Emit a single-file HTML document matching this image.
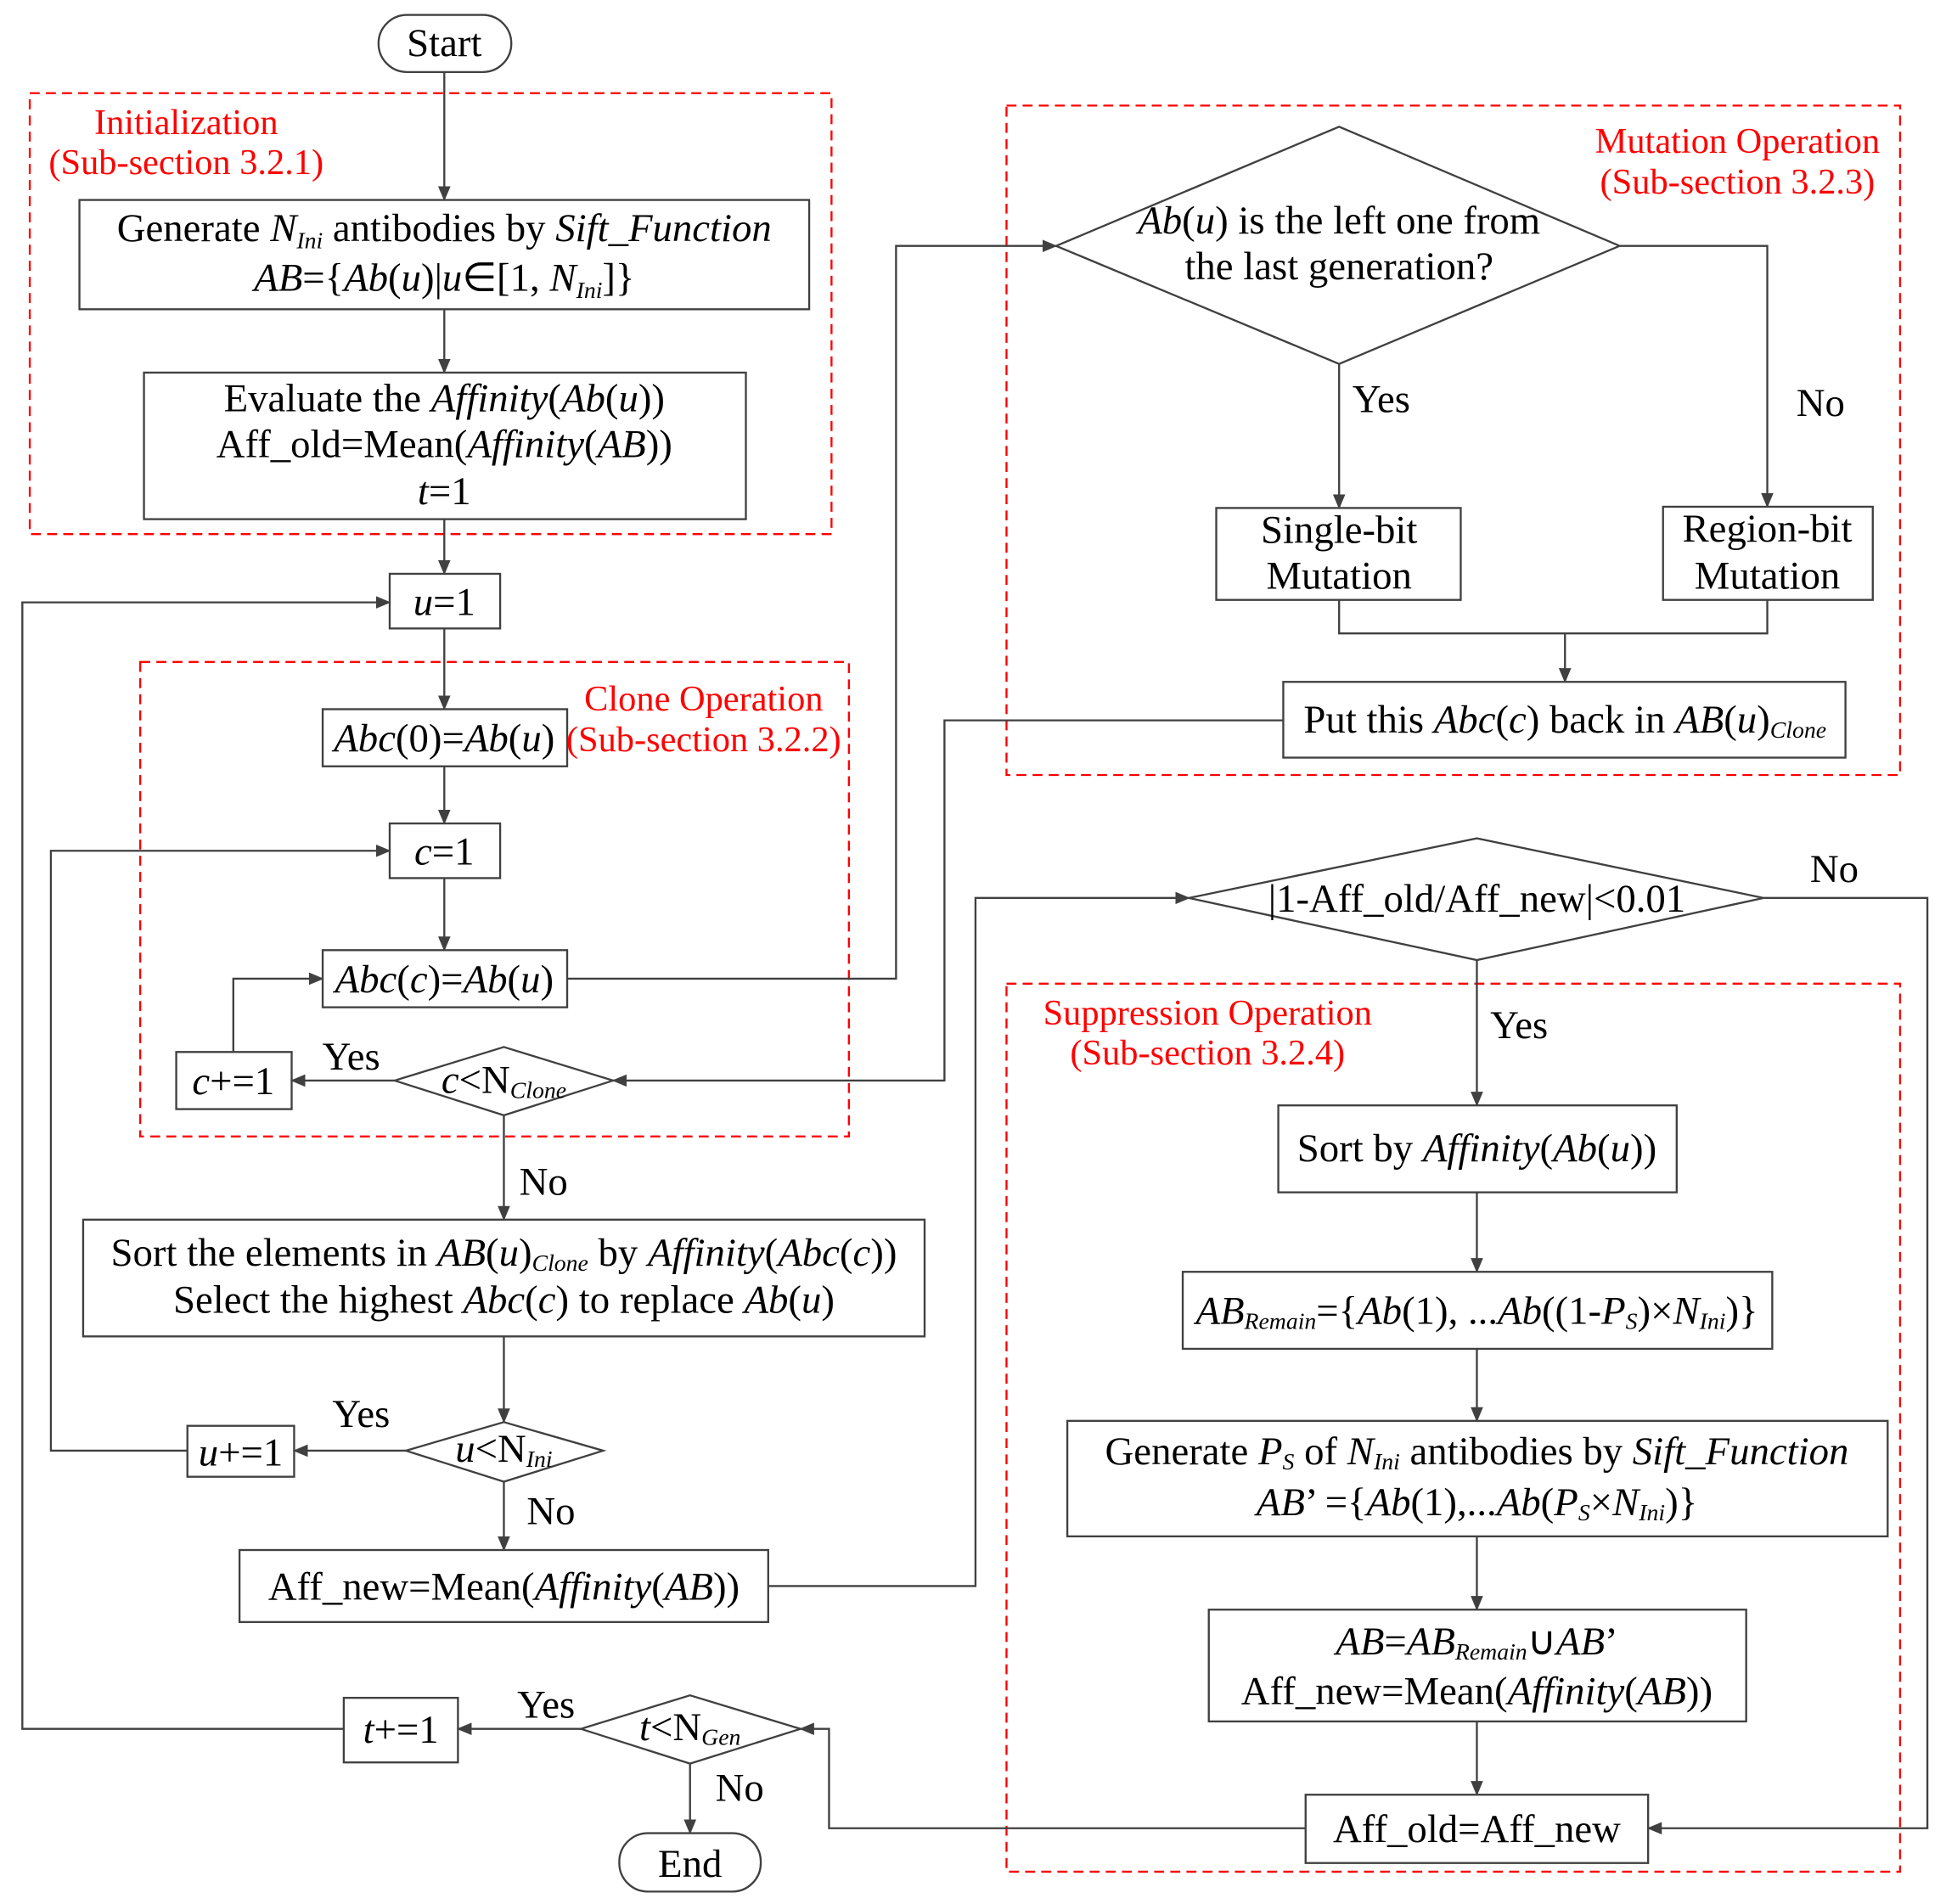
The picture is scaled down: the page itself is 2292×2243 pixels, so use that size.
<!DOCTYPE html>
<html><head><meta charset="utf-8"><style>
html,body{margin:0;padding:0;background:#fff;}
svg{display:block;}
text{font-family:"Liberation Serif",serif;font-size:32px;fill:#000;}
.r{fill:#f00;font-size:29px;}
.s{font-size:19px;}
</style></head><body>
<svg width="2292" height="2243" viewBox="0 0 1568 1533" preserveAspectRatio="none" xmlns="http://www.w3.org/2000/svg">
<defs><marker id="a" markerWidth="12" markerHeight="10" refX="11" refY="5" orient="auto" markerUnits="userSpaceOnUse"><path d="M0,0 L12,5 L0,10 Z" fill="#404040"/></marker></defs>
<g fill="none" stroke="#f00" stroke-width="1.6" stroke-dasharray="8,5">
<rect x="24" y="75" width="646" height="355"/>
<rect x="113" y="533" width="571" height="382"/>
<rect x="811" y="85" width="720" height="539"/>
<rect x="811" y="792" width="720" height="715"/>
</g>
<g fill="#fff" stroke="#404040" stroke-width="1.6">
<rect x="305" y="12" width="107" height="46" rx="23"/>
<rect x="64" y="161" width="588" height="88"/>
<rect x="116" y="300" width="485" height="118"/>
<rect x="314" y="462" width="89" height="44"/>
<rect x="260" y="571" width="197" height="46"/>
<rect x="314" y="663" width="89" height="44"/>
<rect x="260" y="765" width="197" height="46"/>
<rect x="142" y="847" width="93" height="46"/>
<polygon points="318,870 406,843 494,870 406,898"/>
<rect x="67" y="982" width="678" height="94"/>
<polygon points="327,1168 406,1145 486,1168 406,1193"/>
<rect x="151" y="1148" width="86" height="41"/>
<rect x="193" y="1248" width="426" height="58"/>
<rect x="277" y="1367" width="92" height="52"/>
<polygon points="468,1392 556,1365 645,1392 556,1420"/>
<rect x="499" y="1476" width="114" height="47" rx="23"/>
<polygon points="851,198 1079,102 1305,198 1079,293"/>
<rect x="980" y="409" width="197" height="74"/>
<rect x="1340" y="408" width="169" height="75"/>
<rect x="1034" y="549" width="453" height="61"/>
<polygon points="958,723 1190,675 1421,723 1190,773"/>
<rect x="1030" y="890" width="321" height="70"/>
<rect x="953" y="1024" width="475" height="62"/>
<rect x="860" y="1144" width="661" height="93"/>
<rect x="974" y="1296" width="433" height="90"/>
<rect x="1052" y="1445" width="276" height="55"/>
</g>
<g fill="none" stroke="#404040" stroke-width="1.6">
<path d="M358,58V161" marker-end="url(#a)"/>
<path d="M358,249V300" marker-end="url(#a)"/>
<path d="M358,418V462" marker-end="url(#a)"/>
<path d="M358,506V571" marker-end="url(#a)"/>
<path d="M358,617V663" marker-end="url(#a)"/>
<path d="M358,707V765" marker-end="url(#a)"/>
<path d="M457,788H722V198H851" marker-end="url(#a)"/>
<path d="M1079,293V409" marker-end="url(#a)"/>
<path d="M1305,198H1424V408" marker-end="url(#a)"/>
<path d="M1079,483V510H1424V483"/>
<path d="M1261,510V549" marker-end="url(#a)"/>
<path d="M1034,580H761V870H494" marker-end="url(#a)"/>
<path d="M318,870H235" marker-end="url(#a)"/>
<path d="M188,847V788H260" marker-end="url(#a)"/>
<path d="M406,898V982" marker-end="url(#a)"/>
<path d="M406,1076V1145" marker-end="url(#a)"/>
<path d="M327,1168H237" marker-end="url(#a)"/>
<path d="M151,1168H41V685H314" marker-end="url(#a)"/>
<path d="M406,1193V1248" marker-end="url(#a)"/>
<path d="M619,1277H786V723H958" marker-end="url(#a)"/>
<path d="M1421,723H1553V1472H1328" marker-end="url(#a)"/>
<path d="M1190,773V890" marker-end="url(#a)"/>
<path d="M1190,960V1024" marker-end="url(#a)"/>
<path d="M1190,1086V1144" marker-end="url(#a)"/>
<path d="M1190,1237V1296" marker-end="url(#a)"/>
<path d="M1190,1386V1445" marker-end="url(#a)"/>
<path d="M1052,1472H668V1392H645" marker-end="url(#a)"/>
<path d="M468,1392H369" marker-end="url(#a)"/>
<path d="M277,1392H18V485H314" marker-end="url(#a)"/>
<path d="M556,1420V1476" marker-end="url(#a)"/>
</g>
<g text-anchor="middle">
<text class="r" x="150" y="108">Initialization</text>
<text class="r" x="150" y="140">(Sub-section 3.2.1)</text>
<text class="r" x="567" y="572">Clone Operation</text>
<text class="r" x="567" y="605">(Sub-section 3.2.2)</text>
<text class="r" x="1400" y="123">Mutation Operation</text>
<text class="r" x="1400" y="156">(Sub-section 3.2.3)</text>
<text class="r" x="973" y="825">Suppression Operation</text>
<text class="r" x="973" y="857">(Sub-section 3.2.4)</text>

<text x="358" y="45">Start</text>
<text x="358" y="194">Generate <tspan font-style="italic">N<tspan class="s" dy="6">Ini</tspan></tspan><tspan dy="-6"> antibodies by </tspan><tspan font-style="italic">Sift_Function</tspan></text>
<text x="358" y="234"><tspan font-style="italic">AB</tspan>={<tspan font-style="italic">Ab</tspan>(<tspan font-style="italic">u</tspan>)|<tspan font-style="italic">u</tspan>∈[1, <tspan font-style="italic">N<tspan class="s" dy="6">Ini</tspan></tspan><tspan dy="-6">]}</tspan></text>
<text x="358" y="331">Evaluate the <tspan font-style="italic">Affinity</tspan>(<tspan font-style="italic">Ab</tspan>(<tspan font-style="italic">u</tspan>))</text>
<text x="358" y="368">Aff_old=Mean(<tspan font-style="italic">Affinity</tspan>(<tspan font-style="italic">AB</tspan>))</text>
<text x="358" y="406"><tspan font-style="italic">t</tspan>=1</text>
<text x="358" y="495"><tspan font-style="italic">u</tspan>=1</text>
<text x="358" y="605"><tspan font-style="italic">Abc</tspan>(0)=<tspan font-style="italic">Ab</tspan>(<tspan font-style="italic">u</tspan>)</text>
<text x="358" y="696"><tspan font-style="italic">c</tspan>=1</text>
<text x="358" y="799"><tspan font-style="italic">Abc</tspan>(<tspan font-style="italic">c</tspan>)=<tspan font-style="italic">Ab</tspan>(<tspan font-style="italic">u</tspan>)</text>
<text x="188" y="881"><tspan font-style="italic">c</tspan>+=1</text>
<text x="406" y="880" font-size="28"><tspan font-style="italic">c</tspan>&lt;N<tspan class="s" font-style="italic" dy="4">Clone</tspan></text>
<text x="406" y="1019">Sort the elements in <tspan font-style="italic">AB</tspan>(<tspan font-style="italic">u</tspan>)<tspan class="s" font-style="italic" dy="4">Clone</tspan><tspan dy="-4"> by </tspan><tspan font-style="italic">Affinity</tspan>(<tspan font-style="italic">Abc</tspan>(<tspan font-style="italic">c</tspan>))</text>
<text x="406" y="1057">Select the highest <tspan font-style="italic">Abc</tspan>(<tspan font-style="italic">c</tspan>) to replace <tspan font-style="italic">Ab</tspan>(<tspan font-style="italic">u</tspan>)</text>
<text x="406" y="1177" font-size="28"><tspan font-style="italic">u</tspan>&lt;N<tspan class="s" font-style="italic" dy="4">Ini</tspan></text>
<text x="194" y="1180"><tspan font-style="italic">u</tspan>+=1</text>
<text x="406" y="1288">Aff_new=Mean(<tspan font-style="italic">Affinity</tspan>(<tspan font-style="italic">AB</tspan>))</text>
<text x="323" y="1403"><tspan font-style="italic">t</tspan>+=1</text>
<text x="556" y="1401" font-size="28"><tspan font-style="italic">t</tspan>&lt;N<tspan class="s" font-style="italic" dy="4">Gen</tspan></text>
<text x="556" y="1511">End</text>

<text x="1079" y="188"><tspan font-style="italic">Ab</tspan>(<tspan font-style="italic">u</tspan>)  is the left one from</text>
<text x="1079" y="225">the last generation?</text>
<text x="1079" y="437">Single-bit</text>
<text x="1079" y="474">Mutation</text>
<text x="1424" y="436">Region-bit</text>
<text x="1424" y="474">Mutation</text>
<text x="1261" y="590">Put this <tspan font-style="italic">Abc</tspan>(<tspan font-style="italic">c</tspan>) back in <tspan font-style="italic">AB</tspan>(<tspan font-style="italic">u</tspan>)<tspan class="s" font-style="italic" dy="4">Clone</tspan></text>
<text x="1190" y="734">|1-Aff_old/Aff_new|&lt;0.01</text>
<text x="1190" y="935">Sort by <tspan font-style="italic">Affinity</tspan>(<tspan font-style="italic">Ab</tspan>(<tspan font-style="italic">u</tspan>))</text>
<text x="1190" y="1066"><tspan font-style="italic">AB</tspan><tspan class="s" font-style="italic" dy="4">Remain</tspan><tspan dy="-4">={</tspan><tspan font-style="italic">Ab</tspan>(1), ...<tspan font-style="italic">Ab</tspan>((1-<tspan font-style="italic">P</tspan><tspan class="s" font-style="italic" dy="4">S</tspan><tspan dy="-4">)×</tspan><tspan font-style="italic">N</tspan><tspan class="s" font-style="italic" dy="4">Ini</tspan><tspan dy="-4">)}</tspan></text>
<text x="1190" y="1179">Generate <tspan font-style="italic">P</tspan><tspan class="s" font-style="italic" dy="4">S</tspan><tspan dy="-4"> of </tspan><tspan font-style="italic">N</tspan><tspan class="s" font-style="italic" dy="4">Ini</tspan><tspan dy="-4"> antibodies by </tspan><tspan font-style="italic">Sift_Function</tspan></text>
<text x="1190" y="1220"><tspan font-style="italic">AB</tspan>’ ={<tspan font-style="italic">Ab</tspan>(1),...<tspan font-style="italic">Ab</tspan>(<tspan font-style="italic">P</tspan><tspan class="s" font-style="italic" dy="4">S</tspan><tspan dy="-4">×</tspan><tspan font-style="italic">N</tspan><tspan class="s" font-style="italic" dy="4">Ini</tspan><tspan dy="-4">)}</tspan></text>
<text x="1190" y="1332"><tspan font-style="italic">AB</tspan>=<tspan font-style="italic">AB</tspan><tspan class="s" font-style="italic" dy="4">Remain</tspan><tspan dy="-4">∪</tspan><tspan font-style="italic">AB</tspan>’</text>
<text x="1190" y="1372">Aff_new=Mean(<tspan font-style="italic">Affinity</tspan>(<tspan font-style="italic">AB</tspan>))</text>
<text x="1190" y="1483">Aff_old=Aff_new</text>

<text x="1113" y="332">Yes</text>
<text x="1467" y="335">No</text>
<text x="283" y="861">Yes</text>
<text x="438" y="962">No</text>
<text x="291" y="1149">Yes</text>
<text x="444" y="1227">No</text>
<text x="1478" y="710">No</text>
<text x="1224" y="836">Yes</text>
<text x="440" y="1383">Yes</text>
<text x="596" y="1450">No</text>
</g>
</svg>
</body></html>
